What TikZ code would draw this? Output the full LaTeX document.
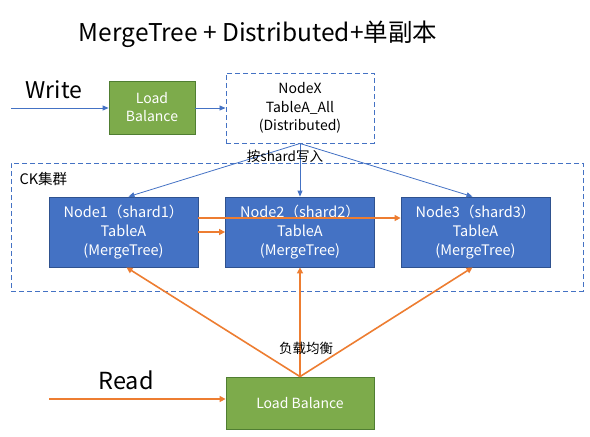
\documentclass[tikz,border=0pt]{standalone}
\usepackage{fontspec}
\setmainfont{Noto Sans CJK SC}
\usetikzlibrary{arrows.meta}
\definecolor{obl}{HTML}{4472C4}
\definecolor{obld}{HTML}{2F528F}
\definecolor{ogr}{HTML}{7DAB4B}
\definecolor{ogrd}{HTML}{507E32}
\definecolor{oor}{HTML}{ED7D31}
\begin{document}
\begin{tikzpicture}[x=1pt,y=-1pt,
  greenbox/.style={draw=ogrd,fill=ogr,text=white,font=\fontsize{14}{18}\selectfont,align=center,inner sep=0pt,line width=0.8pt},
  bluebox/.style={draw=obld,fill=obl,text=white,font=\fontsize{14.5}{19}\selectfont,align=center,inner sep=0pt,minimum width=149pt,minimum height=70pt,line width=0.8pt},
  bluearr/.style={draw=obl,line width=0.8pt,-{Triangle[length=6pt,width=5pt]}},
  orarr/.style={draw=oor,line width=1.6pt,-{Triangle[length=6pt,width=6pt]}},
  dashbox/.style={draw=obl,dashed,dash pattern=on 5pt off 3pt,line width=1pt,inner sep=0pt}
]
\useasboundingbox (0,0) rectangle (590,437);
\node (title) at (258,34) {\fontsize{24.5}{28}\selectfont MergeTree + Distributed+单副本};
\node (write) at (54,90) {\fontsize{23}{26}\selectfont Write};
\node (read) at (126,380) {\fontsize{23.5}{26}\selectfont Read};

\node[greenbox,minimum width=86pt,minimum height=53pt] (lb1) at (152,107.5) {Load\\Balance};
\node[dashbox,minimum width=148pt,minimum height=70pt,align=center,font=\fontsize{14}{18.5}\selectfont] (nx) at (300,108) {NodeX\\TableA\_All\\(Distributed)};

\node[dashbox,minimum width=572pt,minimum height=128pt] (ck) at (297,227) {};
\node[font=\fontsize{14.5}{16}\selectfont,anchor=west] (cklabel) at (16,179) {CK集群};

\node[bluebox] (n1) at (123.5,232) {Node1（shard1）\\TableA\\(MergeTree)};
\node[bluebox] (n2) at (300,232) {Node2（shard2）\\TableA\\(MergeTree)};
\node[bluebox] (n3) at (475.5,232) {Node3（shard3）\\TableA\\(MergeTree)};

\node[greenbox,minimum width=148pt,minimum height=52pt] (lb2) at (300,403) {Load Balance};

\coordinate (win) at (11,108);
\coordinate (rin) at (49,399);
\draw[bluearr] (win) -- (win -| lb1.west);
\draw[bluearr] (lb1.east |- nx.west) -- (nx.west);
\draw[bluearr] (nx.south) -- ([xshift=5pt]n1.north);
\draw[bluearr] (nx.south) -- (n2.north);
\draw[bluearr] (nx.south) -- ([xshift=-3pt]n3.north);
\node[font=\fontsize{13.5}{15}\selectfont] (shardlbl) at (285,156) {按shard写入};

\draw[orarr] ([yshift=14pt]n1.east) -- ([yshift=14pt]n3.west);
\draw[orarr] (n1.east) -- (n2.west);
\draw[orarr] (rin) -- (rin -| lb2.west);
\draw[orarr] (lb2.north) -- ([xshift=3pt]n1.south);
\draw[orarr] (lb2.north) -- (n2.south);
\draw[orarr] (lb2.north) -- ([xshift=-3pt]n3.south);
\node[font=\fontsize{13.5}{15}\selectfont] (lblbl) at (306,348) {负载均衡};
\end{tikzpicture}
\end{document}
